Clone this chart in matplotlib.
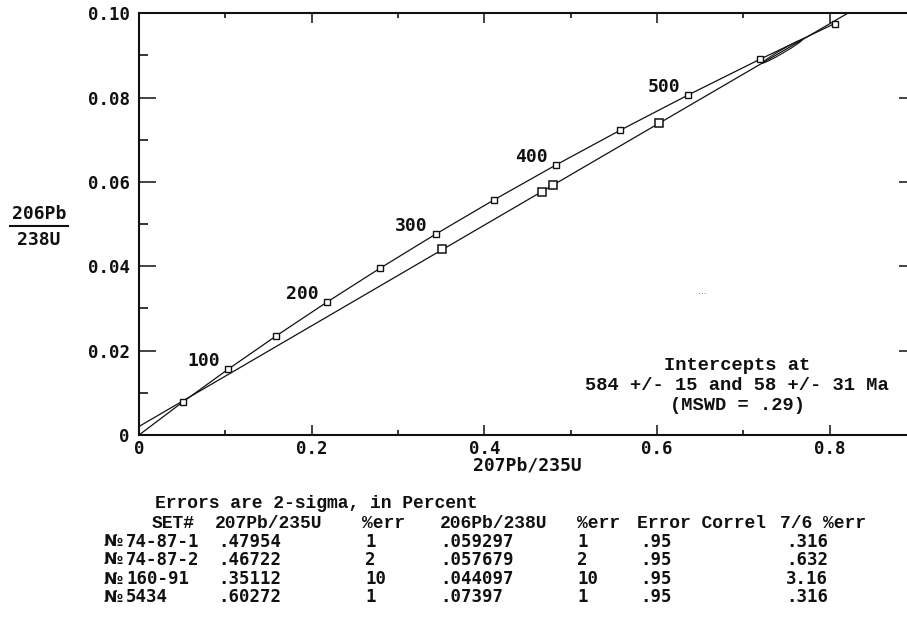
import matplotlib
matplotlib.use("Agg")
import matplotlib.pyplot as plt
from matplotlib.lines import Line2D
from matplotlib.patches import Ellipse
from matplotlib.transforms import ScaledTranslation
import math

W, H = 907, 618

# Concordia reference points: age (Ma) and isotope ratios
conc_age = [0, 50, 100, 150, 200, 250, 300, 350, 400, 450, 500, 550, 600]
conc_x = [0.0, 0.05048, 0.10350, 0.15919, 0.21771, 0.27917, 0.34374,
          0.41155, 0.48281, 0.55765, 0.63627, 0.71886, 0.80560]
conc_y = [0.0, 0.00779, 0.01563, 0.02354, 0.03151, 0.03954, 0.04764,
          0.05580, 0.06402, 0.07230, 0.08065, 0.08906, 0.09754]
label_ages = [100, 200, 300, 400, 500]

# Sample analyses
sample_ids = ["№74-87-1", "№74-87-2", "№160-91", "№5434"]
r207_235 = [0.47954, 0.46722, 0.35112, 0.60272]
err207_235 = [1, 2, 10, 1]
r206_238 = [0.059297, 0.057679, 0.044097, 0.07397]
err206_238 = [1, 2, 10, 1]
err_correl = [0.95, 0.95, 0.95, 0.95]
err76 = [0.316, 0.632, 3.16, 0.316]

# Discordia intercepts (lower, upper) on the concordia
lower_int = (0.05878, 0.009038)
upper_int = (0.77745, 0.094823)
upper_err_center = (0.745, 0.09095)

x_ticks = [0, 0.2, 0.4, 0.6, 0.8]
x_ticklabels = ["0", "0.2", "0.4", "0.6", "0.8"]
y_ticks = [0, 0.02, 0.04, 0.06, 0.08, 0.10]
y_ticklabels = ["0", "0.02", "0.04", "0.06", "0.08", "0.10"]
x_minor = [0.1, 0.3, 0.5, 0.7, 0.9]
y_minor = [0.01, 0.03, 0.05, 0.07, 0.09]

MONO = ["DejaVu Sans Mono", "DejaVu Sans"]
SERIF_MONO = ["Liberation Mono", "DejaVu Sans Mono"]
INK = "#111111"


def fx(px):
    return px / W


def fy(py):
    return 1 - py / H


fig = plt.figure(figsize=(W / 100, H / 100), dpi=100)
fig.patch.set_facecolor("white")

ax_left, ax_right, ax_top, ax_bottom = 139, 916, 13.3, 435
ax = fig.add_axes([fx(ax_left), fy(ax_bottom), (ax_right - ax_left) / W,
                   (ax_bottom - ax_top) / H])
ax.set_xlim(0, 0.9)
ax.set_ylim(0, 0.10)

# Concordia curve and age markers
ax.plot(conc_x, conc_y, color=INK, lw=0.9, zorder=2)
ax.plot(conc_x[1:], conc_y[1:], ls="none", marker="s", ms=4.2,
        mfc="white", mec=INK, mew=1.0, zorder=4)
for age, cx, cy in zip(conc_age, conc_x, conc_y):
    if age in label_ages:
        ax.annotate(str(age), (cx, cy), xytext=(-6, 5.5),
                    textcoords="offset points", ha="right", va="center",
                    fontsize=13, fontweight="bold", family=MONO, color=INK)

# Discordia through the two intercepts
ax.axline(lower_int, upper_int, color=INK, lw=0.9, zorder=2)

# Sample points
ax.plot(r207_235, r206_238, ls="none", marker="s", ms=5.2,
        mfc="white", mec=INK, mew=1.1, zorder=5)

# Upper-intercept error envelope
fig.canvas.draw()
p1 = ax.transData.transform(lower_int)
p2 = ax.transData.transform(upper_int)
ang = math.degrees(math.atan2(p2[1] - p1[1], p2[0] - p1[0]))
ell_tr = fig.dpi_scale_trans + ScaledTranslation(*upper_err_center, ax.transData)
ax.add_patch(Ellipse((0, 0), 0.46, 0.035, angle=ang, transform=ell_tr,
                     fill=False, ec=INK, lw=0.8, zorder=3))

# Axes styling
for side in ["left", "top", "bottom"]:
    ax.spines[side].set_linewidth(1.5)
    ax.spines[side].set_color(INK)
ax.spines["right"].set_visible(False)

ax.set_xticks(x_ticks)
ax.set_xticklabels(x_ticklabels)
ax.set_yticks(y_ticks)
ax.set_yticklabels(y_ticklabels)
ax.set_xticks(x_minor, minor=True)
ax.set_yticks(y_minor, minor=True)
ax.tick_params(axis="x", which="major", direction="in", top=True, bottom=True,
               length=7.5, width=1.1, pad=3.5, colors=INK)
ax.tick_params(axis="x", which="minor", direction="in", top=True, bottom=True,
               length=3.5, width=1.1)
ax.tick_params(axis="y", which="major", direction="in", left=True, right=True,
               length=12.5, width=1.1, pad=6.5, colors=INK)
ax.tick_params(axis="y", which="minor", direction="in", left=True, right=True,
               length=6.5, width=1.1)
for lab in ax.get_xticklabels() + ax.get_yticklabels():
    lab.set_family(MONO)
    lab.set_fontweight("bold")
    lab.set_fontsize(12.5)

# Axis titles
fig.text(fx(527), fy(466), "207Pb/235U", ha="center", va="center",
         fontsize=13, fontweight="bold", family=MONO, color=INK)
fig.text(fx(39), fy(214), "206Pb", ha="center", va="center",
         fontsize=13, fontweight="bold", family=MONO, color=INK)
fig.add_artist(Line2D([fx(10), fx(68)], [fy(226), fy(226)], color=INK, lw=1.5))
fig.text(fx(39), fy(240), "238U", ha="center", va="center",
         fontsize=13, fontweight="bold", family=MONO, color=INK)

# Intercept summary
summary = ["Intercepts at", "584 +/- 15 and 58 +/- 31 Ma", "(MSWD = .29)"]
for line, py in zip(summary, [365, 385, 406]):
    fig.text(fx(737), fy(py), line, ha="center", va="center", fontsize=13.5,
             fontweight="bold", family=SERIF_MONO, color=INK)
fig.text(fx(702), fy(292), "...", ha="center", va="center", fontsize=6.5,
         color="#444444")

# Data table
fig.text(fx(155), fy(503), "Errors are 2-sigma, in Percent", ha="left",
         va="center", fontsize=13, fontweight="bold", family=SERIF_MONO,
         color=INK)
headers = ["SET#", "207Pb/235U", "%err", "206Pb/238U", "%err",
           "Error Correl", "7/6 %err"]
header_x = [152, 215, 362, 440, 577, 637, 780]
for text, px in zip(headers, header_x):
    fig.text(fx(px), fy(523), text, ha="left", va="center", fontsize=13,
             fontweight="bold", family=SERIF_MONO, color=INK)


def short(v):
    s = str(v)
    return s[1:] if s.startswith("0.") else s


col_x = [103, 218, 365, 440, 577, 640, 786]
row_y = [542, 560, 579, 597]
for i, py in enumerate(row_y):
    sid = sample_ids[i]
    # numero sign set in a proportional face, the rest in the mono face
    fig.text(fx(col_x[0]), fy(py), sid[0], ha="left", va="center",
             fontsize=11.5, fontweight="bold", family=["DejaVu Sans"], color=INK)
    cells = [sid[1:], short(r207_235[i]), str(err207_235[i]),
             short(r206_238[i]), str(err206_238[i]), short(err_correl[i]),
             short(err76[i])]
    xs = [col_x[0] + 23] + col_x[1:]
    for text, px in zip(cells, xs):
        fig.text(fx(px), fy(py), text, ha="left", va="center", fontsize=12.5,
                 fontweight="bold", family=MONO, color=INK)

fig.savefig("out.png", dpi=100, facecolor="white")
